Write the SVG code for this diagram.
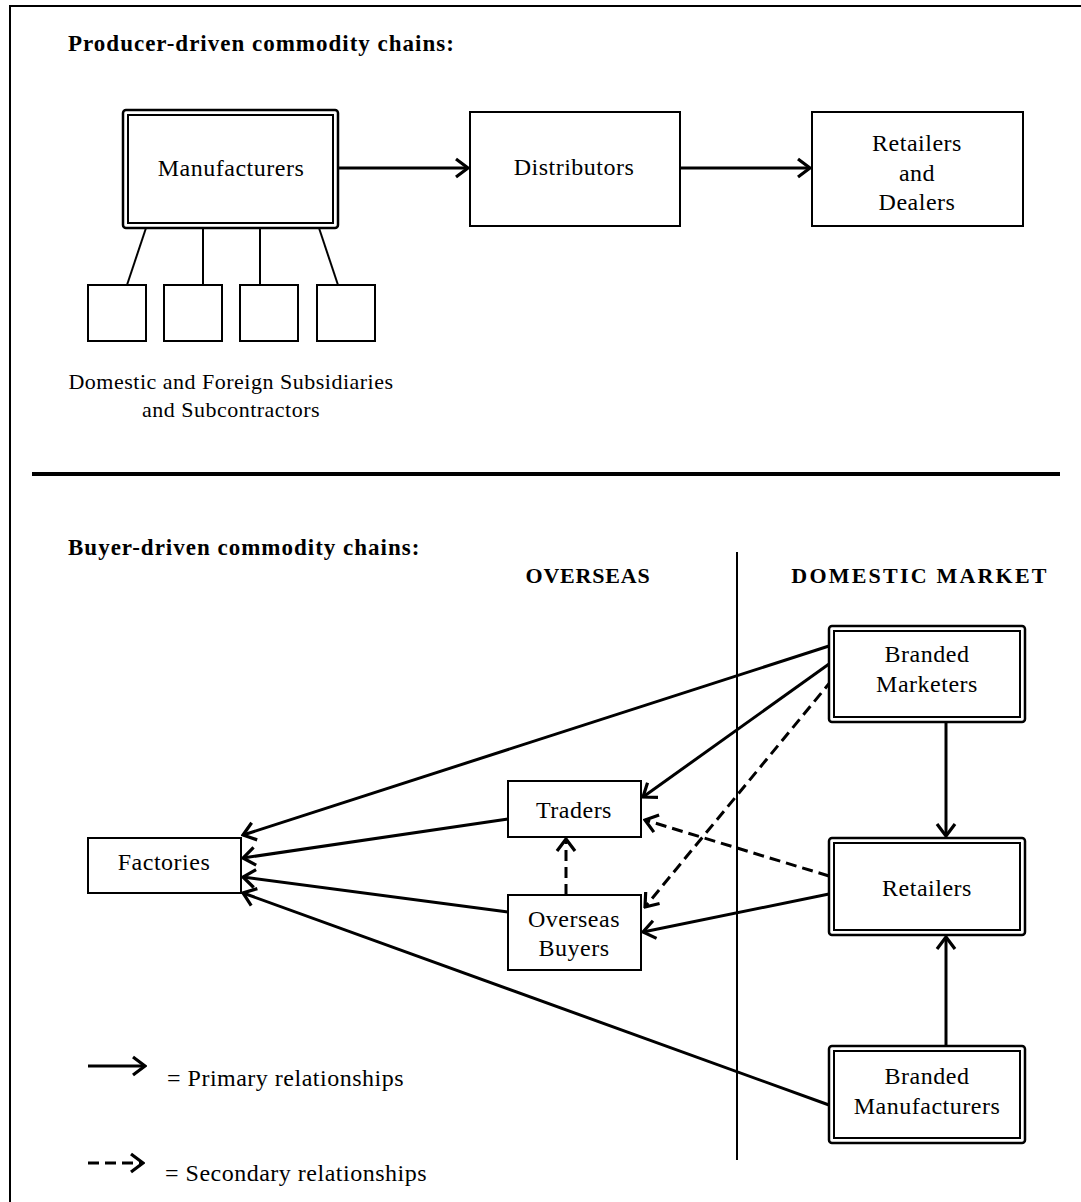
<svg xmlns="http://www.w3.org/2000/svg" width="1081" height="1202" viewBox="0 0 1081 1202">
<defs>
<marker id="ah" markerWidth="16" markerHeight="22" refX="14" refY="11" orient="auto" markerUnits="userSpaceOnUse">
<path d="M2,2 L14,11 L2,20" fill="none" stroke="#000" stroke-width="3.2"/>
</marker>
<style>
text{font-family:"Liberation Serif","Times New Roman",serif;fill:#000}
.lbl{font-size:24px;text-anchor:middle;letter-spacing:0.5px}
.hd{font-size:23px;font-weight:bold;letter-spacing:1px}
.box{fill:#fff;stroke:#000;stroke-width:2}
.dbo{fill:#fff;stroke:#000;stroke-width:2.5}
.dbi{fill:none;stroke:#000;stroke-width:2}
.c{fill:none;stroke:#000;stroke-width:3;marker-end:url(#ah)}
.d{fill:none;stroke:#000;stroke-width:3;stroke-dasharray:11 6;marker-end:url(#ah)}
.ln{stroke:#000;stroke-width:2;fill:none}
.lg{font-size:24px;letter-spacing:0.5px}
</style>
</defs>
<rect width="1081" height="1202" fill="#fff"/>
<path d="M10,1202 V6 H1081" class="ln" stroke-width="3"/>
<line x1="32" y1="474" x2="1060" y2="474" stroke="#000" stroke-width="4"/>
<text class="hd" x="68" y="51">Producer-driven commodity chains:</text>
<text class="hd" x="68" y="555">Buyer-driven commodity chains:</text>
<text class="hd" x="588" y="583" text-anchor="middle" style="font-size:22px;letter-spacing:0.8px">OVERSEAS</text>
<text class="hd" x="920" y="583" text-anchor="middle" style="font-size:22px;letter-spacing:2.2px">DOMESTIC MARKET</text>
<line x1="737" y1="552" x2="737" y2="1160" class="ln"/>

<g id="connectors">
<line class="ln" x1="146" y1="228" x2="127" y2="285"/>
<line class="ln" x1="203" y1="228" x2="203" y2="285"/>
<line class="ln" x1="260" y1="228" x2="260" y2="285"/>
<line class="ln" x1="319" y1="228" x2="338" y2="285"/>
<line class="c" x1="338" y1="168" x2="468" y2="168"/>
<line class="c" x1="680" y1="168" x2="810" y2="168"/>
<line class="c" x1="829" y1="646" x2="243" y2="835"/>
<line class="c" x1="829" y1="664" x2="643" y2="797"/>
<line class="d" x1="832" y1="680" x2="645" y2="907"/>
<line class="c" x1="508" y1="819" x2="243" y2="858"/>
<line class="c" x1="508" y1="912" x2="243" y2="877"/>
<line class="c" x1="829" y1="1105" x2="243" y2="893"/>
<line class="d" x1="829" y1="876" x2="645" y2="820"/>
<line class="c" x1="829" y1="894" x2="643" y2="932"/>
<line class="d" x1="566" y1="895" x2="566" y2="839"/>
<line class="c" x1="946" y1="722" x2="946" y2="836"/>
<line class="c" x1="946" y1="1046" x2="946" y2="937"/>
<line class="c" x1="88" y1="1066" x2="145" y2="1066"/>
<line class="d" x1="88" y1="1163" x2="143" y2="1163" stroke-dasharray="9 5"/>
</g>

<g id="manufacturers">
<rect class="dbo" x="123" y="110" width="215" height="118" rx="3"/>
<rect class="dbi" x="128" y="115" width="205" height="108"/>
<text class="lbl" x="231" y="176">Manufacturers</text>
</g>
<g id="distributors">
<rect class="box" x="470" y="112" width="210" height="114"/>
<text class="lbl" x="574" y="175">Distributors</text>
</g>
<g id="retailers-dealers">
<rect class="box" x="812" y="112" width="211" height="114"/>
<text class="lbl" x="917" y="151">Retailers</text>
<text class="lbl" x="917" y="181">and</text>
<text class="lbl" x="917" y="210">Dealers</text>
</g>
<g id="sub1"><rect class="box" x="88" y="285" width="58" height="56"/></g>
<g id="sub2"><rect class="box" x="164" y="285" width="58" height="56"/></g>
<g id="sub3"><rect class="box" x="240" y="285" width="58" height="56"/></g>
<g id="sub4"><rect class="box" x="317" y="285" width="58" height="56"/></g>
<g id="subs-label">
<text class="lbl" x="231" y="389" style="font-size:22px">Domestic and Foreign Subsidiaries</text>
<text class="lbl" x="231" y="417" style="font-size:22px">and Subcontractors</text>
</g>

<g id="branded-marketers">
<rect class="dbo" x="829" y="626" width="196" height="96" rx="3"/>
<rect class="dbi" x="834" y="631" width="186" height="86"/>
<text class="lbl" x="927" y="662">Branded</text>
<text class="lbl" x="927" y="692">Marketers</text>
</g>
<g id="retailers">
<rect class="dbo" x="829" y="838" width="196" height="97" rx="3"/>
<rect class="dbi" x="834" y="843" width="186" height="87"/>
<text class="lbl" x="927" y="896">Retailers</text>
</g>
<g id="branded-manufacturers">
<rect class="dbo" x="829" y="1046" width="196" height="97" rx="3"/>
<rect class="dbi" x="834" y="1051" width="186" height="87"/>
<text class="lbl" x="927" y="1084">Branded</text>
<text class="lbl" x="927" y="1114">Manufacturers</text>
</g>
<g id="factories">
<rect class="box" x="88" y="838" width="153" height="55"/>
<text class="lbl" x="164" y="870">Factories</text>
</g>
<g id="traders">
<rect class="box" x="508" y="781" width="133" height="56"/>
<text class="lbl" x="574" y="818">Traders</text>
</g>
<g id="overseas-buyers">
<rect class="box" x="508" y="895" width="133" height="75"/>
<text class="lbl" x="574" y="927">Overseas</text>
<text class="lbl" x="574" y="956">Buyers</text>
</g>
<g id="legend">
<text class="lg" x="167" y="1086">= Primary relationships</text>
<text class="lg" x="165" y="1181">= Secondary relationships</text>
</g>
</svg>
